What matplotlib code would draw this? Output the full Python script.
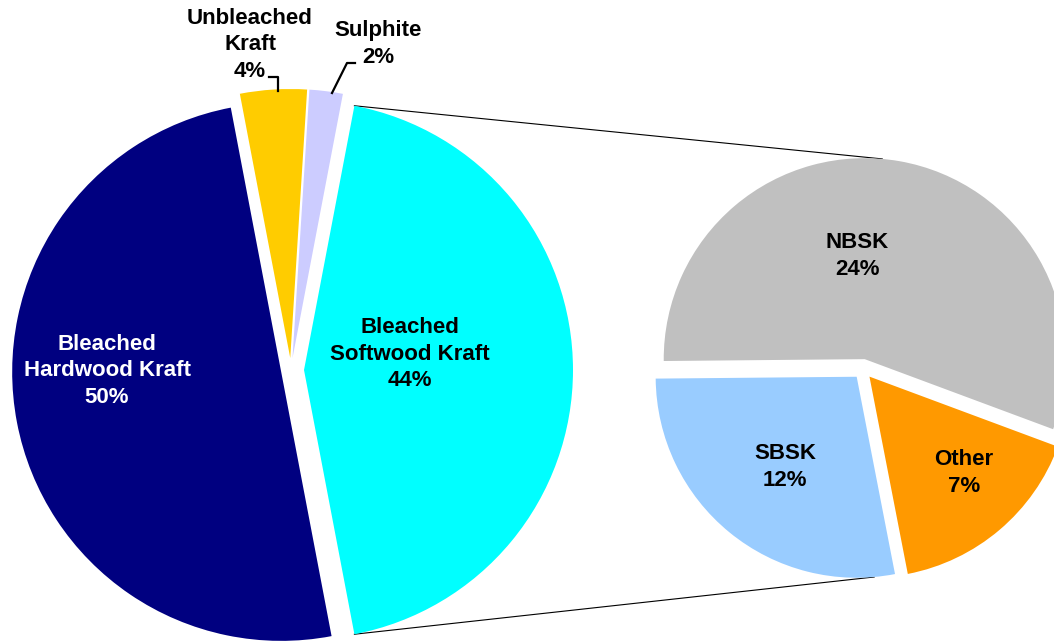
import matplotlib
matplotlib.use("Agg")
import matplotlib.pyplot as plt
import numpy as np

# ---- data ----
main_labels = ["Bleached\nSoftwood Kraft", "Bleached\nHardwood Kraft", "Unbleached\nKraft", "Sulphite"]
main_values = [44, 50, 4, 2]
main_colors = ["#00FFFF", "#000080", "#FFCC00", "#CCCCFF"]

sub_labels = ["NBSK", "SBSK", "Other"]
sub_values = [24, 12, 7]
sub_colors = ["#C0C0C0", "#99CCFF", "#FF9900"]

W, H = 1054, 641
fig = plt.figure(figsize=(W / 100, H / 100), dpi=100)
ax = fig.add_axes([0, 0, 1, 1])

def P(x, y):
    """pixel (top-left origin) -> data coords"""
    return (x, H - y)

# main pie
r1 = 269
c1 = P(291, 370)
start1 = 360 * main_values[0] / sum(main_values) / 2
w1, _ = ax.pie(main_values, colors=main_colors, startangle=start1, counterclock=False,
               radius=r1, center=c1, explode=[13, 10, 12, 12], frame=True,
               wedgeprops=dict(linewidth=0))

# secondary pie
r2 = 201
c2 = P(863, 369)
w2, _ = ax.pie(sub_values, colors=sub_colors, startangle=-20.4, counterclock=True,
               radius=r2, center=c2, explode=[10] * 3, frame=True,
               wedgeprops=dict(linewidth=0))

ax.set_xlim(0, W)
ax.set_ylim(0, H)
ax.set_aspect("equal")
ax.axis("off")

def pt(w, ang):
    cx, cy = w.center
    a = np.deg2rad(ang)
    return cx + w.r * np.cos(a), cy + w.r * np.sin(a)

# connector lines
soft = w1[0]
top_l = pt(soft, soft.theta2)
bot_l = pt(soft, soft.theta1)
top_r = pt(w2[0], 85)
bot_r = pt(w2[1], 275)
ax.plot([top_l[0], top_r[0]], [top_l[1], top_r[1]], color="black", lw=0.8, zorder=0)
ax.plot([bot_l[0], bot_r[0]], [bot_l[1], bot_r[1]], color="black", lw=0.8, zorder=0)

fs = 16
font = dict(family="Liberation Sans", fontweight="bold", fontsize=fs,
            ha="center", va="center", linespacing=1.33)

def lab(text, x, y, color="black"):
    ax.text(*P(x, y), text, color=color, **font)

pct = lambda v: f"{v}%"
lab(main_labels[1] + "\n" + pct(main_values[1]), 107, 371, color="white")
lab(main_labels[0] + "\n" + pct(main_values[0]), 410, 354)
lab(main_labels[2] + "\n" + pct(main_values[2]), 250, 45)
lab(main_labels[3] + "\n" + pct(main_values[3]), 378, 44)
lab(sub_labels[0] + "\n" + pct(sub_values[0]), 857, 256)
lab(sub_labels[1] + "\n" + pct(sub_values[1]), 785, 467)
lab(sub_labels[2] + "\n" + pct(sub_values[2]), 964, 473)

# leader lines
xs, ys = zip(*[P(269, 77), P(278, 77), P(278, 91)])
ax.plot(xs, ys, color="black", lw=1.6)
xs, ys = zip(*[P(355, 63), P(347, 63), P(332, 93)])
ax.plot(xs, ys, color="black", lw=1.6)

fig.savefig("out.png", dpi=100)
